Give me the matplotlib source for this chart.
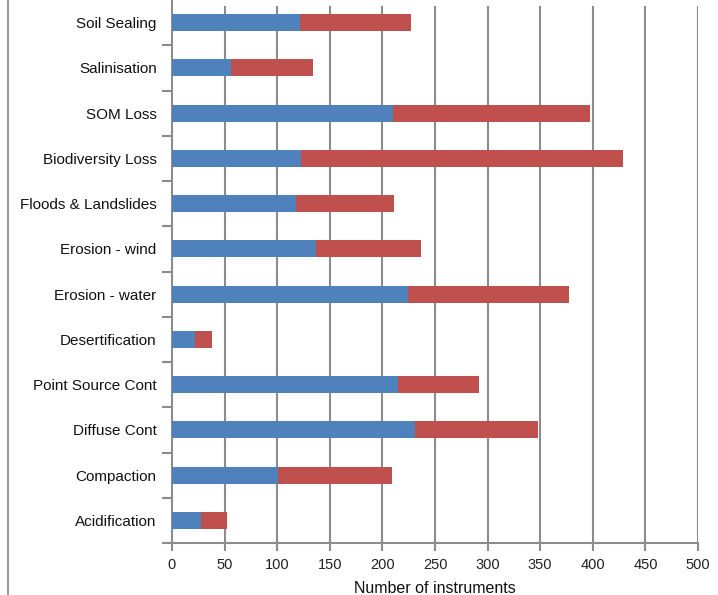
import matplotlib
matplotlib.use('Agg')
import matplotlib.pyplot as plt
from matplotlib.lines import Line2D
import numpy as np

# bottom to top, as drawn
categories = ['Acidification', 'Compaction', 'Diffuse Cont', 'Point Source Cont',
              'Desertification', 'Erosion - water', 'Erosion - wind',
              'Floods & Landslides', 'Biodiversity Loss', 'SOM Loss',
              'Salinisation', 'Soil Sealing']
blue_vals = [28, 101, 231, 215, 22, 224, 137, 118, 123, 210, 56, 122]
totals = [52, 209, 348, 292, 38, 377, 237, 211, 429, 397, 134, 227]
red_vals = [t - b for t, b in zip(totals, blue_vals)]
xticks = [0, 50, 100, 150, 200, 250, 300, 350, 400, 450, 500]

BLUE = '#4F81BD'
RED = '#C0504D'
GRID = '#8c8c8c'

plt.rcParams['font.family'] = ['Liberation Sans', 'DejaVu Sans']

fig = plt.figure(figsize=(7.18, 5.95), dpi=100)
ax = fig.add_axes([172 / 718, 52 / 595, 526 / 718, 543 / 595])

y = np.arange(len(categories))
ax.barh(y, blue_vals, height=0.375, color=BLUE, zorder=3)
ax.barh(y, red_vals, left=blue_vals, height=0.375, color=RED, zorder=3)

ax.set_xlim(0, 500)
ax.set_ylim(-0.5, len(categories) - 0.5)

# vertical gridlines (stop a little below the top edge like the original)
for x in xticks[1:]:
    ax.axvline(x, ymin=0, ymax=0.987, color=GRID, linewidth=1.5, zorder=1)

ax.set_xticks(xticks)
ax.set_xticklabels([str(v) for v in xticks], fontsize=10.5, color='#222222')
ax.set_yticks(y)
ax.set_yticklabels(categories, fontsize=11, color='#111111')
# category boundary ticks (top one is off the picture in the original)
ax.set_yticks(np.arange(-0.5, len(categories) - 1, 1.0), minor=True)

ax.tick_params(axis='y', which='major', length=0, pad=11)
ax.tick_params(axis='y', which='minor', length=7, width=1.5, color=GRID)
ax.tick_params(axis='x', which='major', length=6, width=1.5, color=GRID, pad=5)

for s in ['top', 'right']:
    ax.spines[s].set_visible(False)
for s in ['left', 'bottom']:
    ax.spines[s].set_color(GRID)
    ax.spines[s].set_linewidth(1.5)

ax.set_xlabel('Number of instruments', fontsize=11.5, color='#111111', labelpad=6)

# thin frame line on the far left of the picture
fig.add_artist(Line2D([8 / 718, 8 / 718], [0, 1], color='#999999', linewidth=1.5))

fig.savefig('out.png', dpi=100)
